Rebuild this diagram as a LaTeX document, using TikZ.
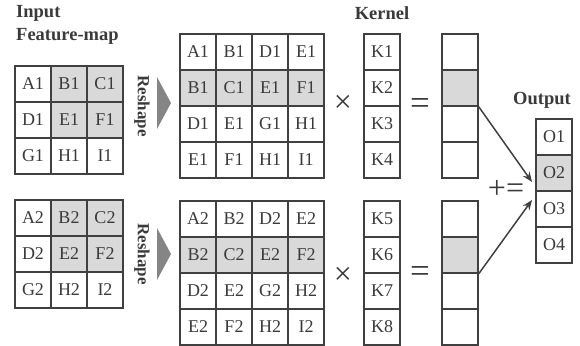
\documentclass[tikz,border=0pt]{standalone}
\usepackage{fontspec}
\setmainfont{Liberation Serif}
\usetikzlibrary{arrows.meta,calc}
\definecolor{ln}{HTML}{404040}
\definecolor{tx}{HTML}{3A3A3A}
\definecolor{gf}{HTML}{D9D9D9}
\definecolor{tri}{HTML}{858585}
\newcommand\cellgrid[4]{%
  \foreach \r/\c/\t/\s in {#4} {%
    \node[cellbox,fill=\s] (#1-\r-\c) at ({#2+18+36*\c},{#3+18+36*\r}) {\t};}}
\begin{document}
\begin{tikzpicture}[x=1pt,y=-1pt,
  cellbox/.style={draw=ln, line width=1.5pt, minimum size=36pt, inner sep=0pt,
    text=tx, font=\fontsize{18}{18}\selectfont},
  lbl/.style={font=\bfseries\fontsize{18.5}{20}\selectfont, text=tx, inner sep=0pt},
  opsym/.style={text=tx, inner sep=0pt},
  arr/.style={draw=ln, line width=1.5pt, -{Stealth[length=10pt,width=8pt]}}]
\useasboundingbox (0,0) rectangle (580,345);

% labels
\node[lbl, anchor=west] (inp) at (16,13) {Input};
\node[lbl, anchor=west] (fm) at (16,36) {Feature-map};
\node[lbl] (kl) at (382,13) {Kernel};
\node[lbl] (ol) at (542,100) {Output};

% input grids
\cellgrid{ia}{15}{66}{0/0/A1/white,0/1/B1/gf,0/2/C1/gf,
  1/0/D1/white,1/1/E1/gf,1/2/F1/gf,
  2/0/G1/white,2/1/H1/white,2/2/I1/white}
\cellgrid{ib}{15}{200}{0/0/A2/white,0/1/B2/gf,0/2/C2/gf,
  1/0/D2/white,1/1/E2/gf,1/2/F2/gf,
  2/0/G2/white,2/1/H2/white,2/2/I2/white}

% reshape labels and triangles
\node[lbl, font=\bfseries\fontsize{17}{17}\selectfont, rotate=-90] (rs1) at (142,106) {Reshape};
\node[lbl, font=\bfseries\fontsize{17}{17}\selectfont, rotate=-90] (rs2) at (142,254) {Reshape};
\fill[tri] (157,77) -- (171,103) -- (157,129) -- cycle;
\fill[tri] (157,228) -- (171,254) -- (157,280) -- cycle;

% reshaped grids
\cellgrid{ma}{180}{34}{0/0/A1/white,0/1/B1/white,0/2/D1/white,0/3/E1/white,
  1/0/B1/gf,1/1/C1/gf,1/2/E1/gf,1/3/F1/gf,
  2/0/D1/white,2/1/E1/white,2/2/G1/white,2/3/H1/white,
  3/0/E1/white,3/1/F1/white,3/2/H1/white,3/3/I1/white}
\cellgrid{mb}{180}{201}{0/0/A2/white,0/1/B2/white,0/2/D2/white,0/3/E2/white,
  1/0/B2/gf,1/1/C2/gf,1/2/E2/gf,1/3/F2/gf,
  2/0/D2/white,2/1/E2/white,2/2/G2/white,2/3/H2/white,
  3/0/E2/white,3/1/F2/white,3/2/H2/white,3/3/I2/white}

% kernels
\cellgrid{ka}{364}{34}{0/0/K1/white,1/0/K2/white,2/0/K3/white,3/0/K4/white}
\cellgrid{kb}{364}{201}{0/0/K5/white,1/0/K6/white,2/0/K7/white,3/0/K8/white}

% results
\cellgrid{ra}{442}{34}{0/0//white,1/0//gf,2/0//white,3/0//white}
\cellgrid{rb}{442}{201}{0/0//white,1/0//gf,2/0//white,3/0//white}

% output
\cellgrid{o}{536}{119}{0/0/O1/white,1/0/O2/gf,2/0/O3/white,3/0/O4/white}

% operators
\node[opsym, font=\fontsize{32}{32}\selectfont] (x1) at (343,104) {×};
\node[opsym, font=\fontsize{32}{32}\selectfont] (x2) at (343,276) {×};
\node[opsym, font=\fontsize{35}{35}\selectfont] (e1) at (420,107) {=};
\node[opsym, font=\fontsize{35}{35}\selectfont] (e2) at (420,274) {=};
\node[opsym, font=\fontsize{32}{32}\selectfont] (pe) at (506,189) {+=};

% arrows
\coordinate (t1) at (532,182);
\coordinate (t2) at (532,200);
\draw[arr] (ra-1-0.south east) -- (t1);
\draw[arr] (rb-1-0.south east) -- (t2);
\end{tikzpicture}
\end{document}
